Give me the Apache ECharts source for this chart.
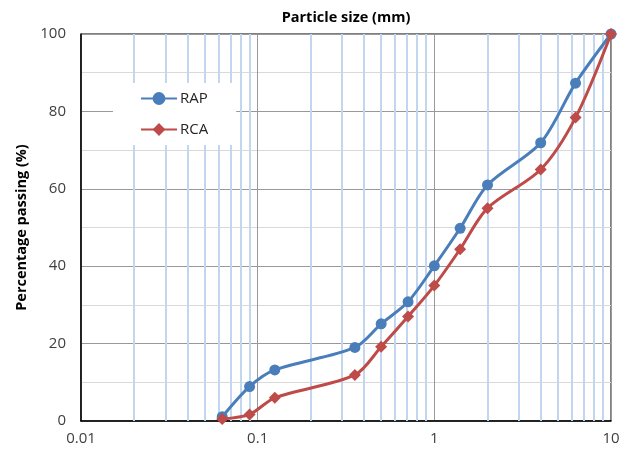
<!DOCTYPE html>
<html>
<head>
<meta charset="utf-8">
<script src="https://cdn.jsdelivr.net/npm/echarts@6/dist/echarts.min.js"></script>
<style>html,body{margin:0;padding:0;background:#fff}#chart{width:628px;height:453px}</style>
</head>
<body>
<div id="chart"></div>
<script>
const particleSizes = [0.063, 0.09, 0.125, 0.355, 0.5, 0.71, 1, 1.4, 2, 4, 6.3, 10];
const rapPassing = [1.1, 8.9, 13.2, 19.0, 25.1, 30.8, 40.1, 49.8, 61.0, 71.9, 87.3, 100];
const rcaPassing = [0.5, 1.7, 6.0, 11.9, 19.2, 27.0, 35.0, 44.4, 55.0, 65.0, 78.4, 100];
const xTickLabels = ['0.01', '0.1', '1', '10'];
const minorGridValues = [0.02,0.03,0.04,0.05,0.06,0.07,0.08,0.09,0.2,0.3,0.4,0.5,0.6,0.7,0.8,0.9,2,3,4,5,6,7,8,9];

const font = '"Open Sans", "Liberation Sans", sans-serif';
const chart = echarts.init(document.getElementById('chart'));
const pair = (xs, ys) => xs.map((x, i) => [x, ys[i]]);

chart.setOption({
  animation: false,
  title: {
    text: 'Particle size (mm)',
    left: 346, top: 10, padding: 0, textAlign: 'center',
    textStyle: { fontFamily: font, fontSize: 14.5, fontWeight: 'bold', color: '#000' }
  },
  grid: { left: 81, right: 17, top: 34, bottom: 32, show: true, borderColor: '#000', borderWidth: 1, backgroundColor: 'transparent' },
  legend: {
    orient: 'vertical', left: 113, top: 83,
    padding: [8, 28, 8, 27],
    backgroundColor: '#fff',
    itemWidth: 36, itemHeight: 16, itemGap: 16,
    data: ['RAP', 'RCA'],
    textStyle: { fontFamily: font, fontSize: 15, color: '#262626', padding: [0, 0, 0, -2] }
  },
  xAxis: {
    type: 'log', logBase: 10, min: 0.01, max: 10,
    axisLine: { show: true, lineStyle: { color: '#000', width: 1.5 } },
    axisTick: { show: false },
    axisLabel: {
      margin: 10, fontFamily: font, fontSize: 15, color: '#404040',
      formatter: v => { const k = Math.round(Math.log10(v)) + 2; return xTickLabels[k] ?? ''; }
    },
    splitLine: { show: true, lineStyle: { color: '#999999', width: 1 } }
  },
  yAxis: {
    type: 'value', min: 0, max: 100, interval: 20,
    name: 'Percentage passing (%)', nameLocation: 'middle', nameGap: 47, nameRotate: 90,
    nameTextStyle: { fontFamily: font, fontSize: 14.5, fontWeight: 'bold', color: '#000' },
    axisLine: { show: true, lineStyle: { color: '#000', width: 1.5 } },
    axisTick: { show: false },
    axisLabel: { margin: 15, fontFamily: font, fontSize: 15, color: '#404040' },
    splitLine: { show: true, lineStyle: { color: '#999999', width: 1 } },
    minorTick: { show: false, splitNumber: 2 },
    minorSplitLine: { show: true, lineStyle: { color: '#d9d9d9', width: 1 } }
  },
  series: [
    {
      name: 'grid-helper', type: 'line', data: [], silent: true, z: 1,
      markLine: {
        silent: true, z: 1, symbol: 'none', animation: false,
        label: { show: false },
        lineStyle: { color: '#c2d6f0', width: 2, type: 'solid' },
        emphasis: { disabled: true },
        data: minorGridValues.map(v => ({ xAxis: v }))
      }
    },
    {
      name: 'RAP', type: 'line', data: pair(particleSizes, rapPassing), z: 3,
      smooth: 0.3, symbol: 'circle', symbolSize: 11,
      lineStyle: { color: '#4a7ebb', width: 3 },
      itemStyle: { color: '#4a7ebb' }
    },
    {
      name: 'RCA', type: 'line', data: pair(particleSizes, rcaPassing), z: 4,
      smooth: 0.3, symbol: 'diamond', symbolSize: 12,
      lineStyle: { color: '#be4b48', width: 3 },
      itemStyle: { color: '#be4b48' }
    }
  ]
});
</script>
</body>
</html>
